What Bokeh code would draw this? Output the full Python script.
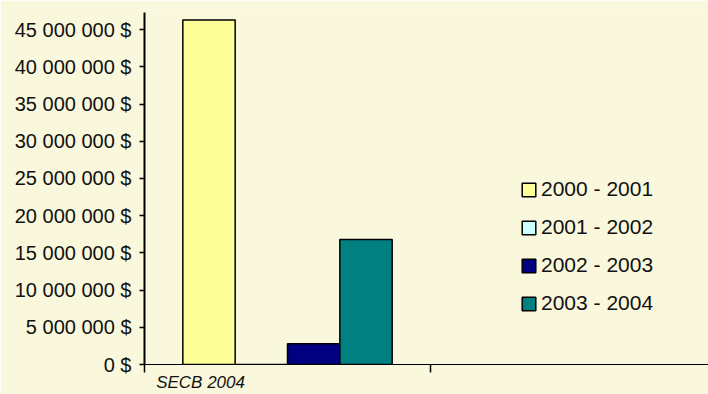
from bokeh.plotting import figure
from bokeh.models import FixedTicker, Range1d, Legend, LegendItem, ColumnDataSource
from bokeh.transform import dodge
from bokeh.embed import file_html
from bokeh.resources import INLINE

# ---- data ----
categories = ["SECB 2004"]
cat_x = [0]
series = ["2000 - 2001", "2001 - 2002", "2002 - 2003", "2003 - 2004"]
v_2000_2001 = [46_300_000]
v_2001_2002 = [0]
v_2002_2003 = [2_800_000]
v_2003_2004 = [16_800_000]
colors = ["#FFFF99", "#CCFFFF", "#000080", "#008080"]
y_ticks = [0, 5_000_000, 10_000_000, 15_000_000, 20_000_000,
           25_000_000, 30_000_000, 35_000_000, 40_000_000, 45_000_000]
y_tick_labels = ["0 $", "5 000 000 $", "10 000 000 $", "15 000 000 $", "20 000 000 $",
                 "25 000 000 $", "30 000 000 $", "35 000 000 $", "40 000 000 $", "45 000 000 $"]

src = ColumnDataSource(data={
    "x": cat_x,
    series[0]: v_2000_2001,
    series[1]: v_2001_2002,
    series[2]: v_2002_2003,
    series[3]: v_2003_2004,
})

BG = "#F9F7DC"
FONT = "Liberation Sans"

p = figure(width=708, height=394, x_range=Range1d(-0.5, 1.472), y_range=Range1d(0, 47_300_000),
           output_backend="svg", toolbar_location=None,
           min_border_left=144, min_border_right=0, min_border_top=12, min_border_bottom=28,
           background_fill_color=BG, border_fill_color=BG)
p.outline_line_color = None
p.grid.visible = False

bw = 0.183
renderers = []
for k, s in enumerate(series):
    r = p.vbar(x=dodge("x", (k - 1.5) * bw, range=p.x_range), top=s, width=bw, bottom=0,
               source=src, fill_color=colors[k], line_color="black", line_width=1.5)
    renderers.append(r)

# y axis
ya = p.yaxis[0]
ya.ticker = FixedTicker(ticks=y_ticks)
ya.major_label_overrides = {t: l for t, l in zip(y_ticks, y_tick_labels)}
ya.axis_line_color = "black"
ya.axis_line_width = 2
ya.major_tick_out = 5
ya.major_tick_in = 0
ya.major_tick_line_width = 1.5
ya.minor_tick_line_color = None
ya.major_label_standoff = 8
ya.major_label_text_font = FONT
ya.major_label_text_font_size = "20px"
ya.major_label_text_color = "#111111"

# x axis
label_pos = -0.304
xa = p.xaxis[0]
xa.ticker = FixedTicker(ticks=[label_pos], minor_ticks=[-0.499, 0.5])
xa.major_label_overrides = {label_pos: categories[0]}
xa.axis_line_color = "black"
xa.axis_line_width = 1.2
xa.major_tick_line_color = None
xa.major_tick_out = 8
xa.major_tick_in = 0
xa.minor_tick_line_color = "black"
xa.minor_tick_line_width = 1.5
xa.minor_tick_out = 8
xa.minor_tick_in = 0
xa.major_label_standoff = 0
xa.major_label_text_font = FONT
xa.major_label_text_font_style = "italic"
xa.major_label_text_font_size = "17px"
xa.major_label_text_color = "#111111"

legend = Legend(items=[LegendItem(label=s, renderers=[r]) for s, r in zip(series, renderers)],
                location=(376, 49))
legend.background_fill_alpha = 0
legend.border_line_color = None
legend.padding = 0
legend.margin = 0
legend.spacing = 14
legend.glyph_width = 17
legend.glyph_height = 17
legend.label_height = 24
legend.label_standoff = 4
legend.label_text_font = FONT
legend.label_text_font_size = "21px"
legend.label_text_color = "#111111"
p.add_layout(legend)

open("out.html", "w").write(file_html(p, INLINE))
